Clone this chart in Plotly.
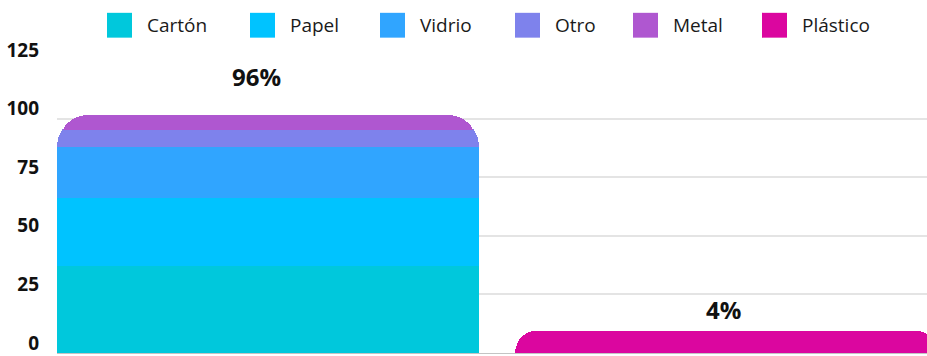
import plotly.graph_objects as go

# --- data -------------------------------------------------------------
groups = ["Reciclable", "No reciclable"]
materials = ["Cartón", "Papel", "Vidrio", "Otro", "Metal", "Plástico"]
carton = [37, 0]
papel = [29, 0]
vidrio = [22, 0]
otro = [7.5, 0]
metal = [0.5, 0]
plastico = [0, 4]
y_ticks = [0, 25, 50, 75, 100, 125]

series = [carton, papel, vidrio, otro, metal, plastico]
colors = ["#00C8DC", "#00C3FF", "#30A5FF", "#7E82EC", "#AF57D0", "#DB069F"]

# --- geometry / style ---------------------------------------------------
W, H = 927, 356
M_L, M_R, M_T, M_B = 57, 0, 60, 1
PLOT_W = W - M_L - M_R
PLOT_H = H - M_T - M_B
Y_MAX = 125
CAP_PX = 13            # rounded cap drawn on top of each stack
CORNER_R = 32
BAR_GAP = 0.0786
X_RANGE = [-0.4607, 1.4389]
LABEL_YSHIFT = [51, 34]
LABEL_XSHIFT = [-12, -2]
LEGEND_X = [107, 250, 380, 515, 633, 762]   # swatch left edges, px
SWATCH = 25
LEGEND_CY = 25

totals = [sum(s[i] for s in series) for i in range(len(groups))]
cap_units = CAP_PX / (PLOT_H / Y_MAX)

fig = go.Figure()
for name, vals, col in zip(materials, series, colors):
    fig.add_trace(go.Bar(x=groups, y=vals, name=name, marker_color=col,
                         marker_line_width=0, showlegend=False))

# cap on top of each stack, coloured like the topmost non-empty segment
cap_colors = []
for i in range(len(groups)):
    top = [c for s, c in zip(series, colors) if s[i] > 0][-1]
    cap_colors.append(top)
fig.add_trace(go.Bar(x=groups, y=[cap_units] * len(groups),
                     marker_color=cap_colors, marker_line_width=0,
                     showlegend=False, hoverinfo="skip"))

# total labels above each stack
for i, g in enumerate(groups):
    fig.add_annotation(x=g, y=totals[i], text=f"{round(totals[i])}%",
                       showarrow=False, yshift=LABEL_YSHIFT[i],
                       xshift=LABEL_XSHIFT[i], yanchor="middle",
                       font=dict(family="Open Sans", size=24, color="#111111",
                                 weight="bold"))

# legend row: swatch + label
def px_x(px):
    return (px - M_L) / PLOT_W

def px_y(py):
    return (H - M_B - py) / PLOT_H

for name, col, lx in zip(materials, colors, LEGEND_X):
    fig.add_shape(type="rect", xref="paper", yref="paper",
                  x0=px_x(lx), x1=px_x(lx + SWATCH),
                  y0=px_y(LEGEND_CY + SWATCH / 2), y1=px_y(LEGEND_CY - SWATCH / 2),
                  fillcolor=col, line=dict(width=0))
    fig.add_annotation(xref="paper", yref="paper", x=px_x(lx + SWATCH + 13),
                       y=px_y(LEGEND_CY), xanchor="left", yanchor="middle",
                       text=name, showarrow=False,
                       font=dict(family="Open Sans", size=19, color="#1a1a1a",
                                 weight=500))

fig.update_layout(
    width=W, height=H, autosize=False,
    margin=dict(l=M_L, r=M_R, t=M_T, b=M_B, pad=0),
    barmode="stack", bargap=BAR_GAP, barcornerradius=CORNER_R,
    paper_bgcolor="white", plot_bgcolor="white",
    showlegend=False,
    xaxis=dict(range=X_RANGE, showticklabels=False, showgrid=False,
               zeroline=False, showline=True, linecolor="#c4c4c4",
               linewidth=1, fixedrange=True),
    yaxis=dict(range=[0, Y_MAX], tickvals=y_ticks, showgrid=True,
               gridcolor="#e4e4e4", gridwidth=1.5, zeroline=False,
               showline=False, ticks="",
               ticklabelstandoff=17, ticklabelshift=-10,
               ticklabeloverflow="allow",
               tickfont=dict(family="Open Sans", size=19, color="#111111",
                             weight="bold")),
)

fig.write_html("out.html")
